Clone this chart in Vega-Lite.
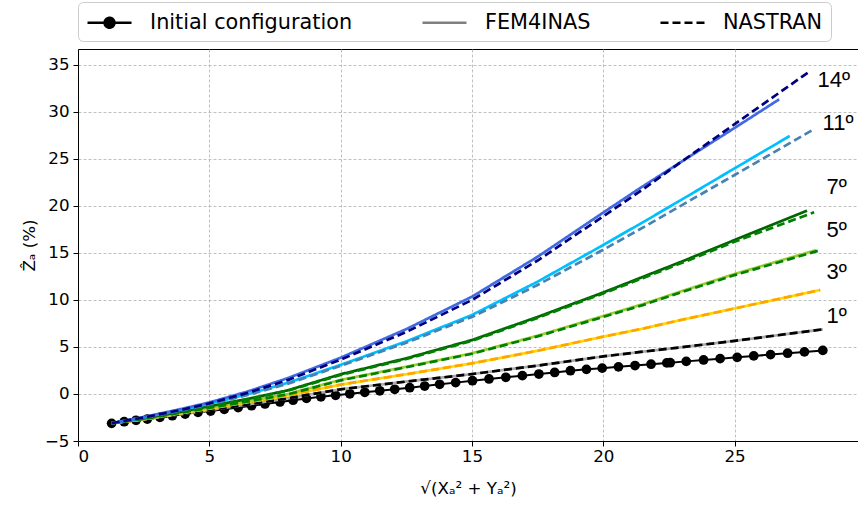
{
  "$schema": "https://vega.github.io/schema/vega-lite/v6.json",
  "width": 780,
  "height": 392,
  "autosize": "none",
  "padding": {"left": 78, "top": 49, "right": 0, "bottom": 69},
  "background": "white",
  "config": {
    "view": {"stroke": "black", "strokeWidth": 1},
    "axis": {
      "labelFont": "DejaVu Sans", "labelFontSize": 16.7, "labelColor": "black",
      "titleFont": "DejaVu Sans", "titleFontSize": 16.7, "titleFontWeight": "normal", "titleColor": "black",
      "tickColor": "black", "tickSize": 5, "domainColor": "black",
      "gridColor": "#b0b0b0", "gridDash": [3, 2], "gridWidth": 0.8
    }
  },
  "datasets": {
    "init": [
      {"x": 1.28, "y": -3.12}, {"x": 1.76, "y": -2.95}, {"x": 2.21, "y": -2.80}, {"x": 2.64, "y": -2.66},
      {"x": 3.12, "y": -2.48}, {"x": 3.59, "y": -2.31}, {"x": 4.08, "y": -2.13}, {"x": 4.57, "y": -1.95},
      {"x": 5.05, "y": -1.81}, {"x": 5.57, "y": -1.63}, {"x": 6.10, "y": -1.44}, {"x": 6.61, "y": -1.25},
      {"x": 7.12, "y": -1.06}, {"x": 7.69, "y": -0.85}, {"x": 8.19, "y": -0.66}, {"x": 8.70, "y": -0.47},
      {"x": 9.25, "y": -0.30}, {"x": 9.81, "y": -0.14}, {"x": 10.35, "y": 0.02}, {"x": 10.92, "y": 0.18},
      {"x": 11.49, "y": 0.34}, {"x": 12.06, "y": 0.50}, {"x": 12.63, "y": 0.67}, {"x": 13.20, "y": 0.85},
      {"x": 13.77, "y": 1.03}, {"x": 14.38, "y": 1.21}, {"x": 15.02, "y": 1.41}, {"x": 15.65, "y": 1.60},
      {"x": 16.29, "y": 1.78}, {"x": 16.92, "y": 1.95}, {"x": 17.55, "y": 2.12}, {"x": 18.15, "y": 2.29},
      {"x": 18.75, "y": 2.48}, {"x": 19.36, "y": 2.62}, {"x": 19.96, "y": 2.75}, {"x": 20.58, "y": 2.89},
      {"x": 21.21, "y": 3.03}, {"x": 21.82, "y": 3.17}, {"x": 22.42, "y": 3.31}, {"x": 22.55, "y": 3.33},
      {"x": 23.16, "y": 3.47}, {"x": 23.82, "y": 3.62}, {"x": 24.45, "y": 3.76}, {"x": 25.10, "y": 3.90},
      {"x": 25.73, "y": 4.05}, {"x": 26.37, "y": 4.19}, {"x": 27.02, "y": 4.34}, {"x": 27.66, "y": 4.48},
      {"x": 28.36, "y": 4.64}
    ],
    "curves": [
      {"series": "1 FEM", "kind": "FEM4INAS", "x": 1.28, "y": -3.1}, {"series": "1 FEM", "kind": "FEM4INAS", "x": 2.5, "y": -2.68},
      {"series": "1 FEM", "kind": "FEM4INAS", "x": 4, "y": -2.12}, {"series": "1 FEM", "kind": "FEM4INAS", "x": 5, "y": -1.7},
      {"series": "1 FEM", "kind": "FEM4INAS", "x": 6.5, "y": -1.1}, {"series": "1 FEM", "kind": "FEM4INAS", "x": 8, "y": -0.45},
      {"series": "1 FEM", "kind": "FEM4INAS", "x": 10, "y": 0.5}, {"series": "1 FEM", "kind": "FEM4INAS", "x": 12.5, "y": 1.32},
      {"series": "1 FEM", "kind": "FEM4INAS", "x": 15, "y": 2.12}, {"series": "1 FEM", "kind": "FEM4INAS", "x": 17.5, "y": 3.02},
      {"series": "1 FEM", "kind": "FEM4INAS", "x": 20, "y": 4.0}, {"series": "1 FEM", "kind": "FEM4INAS", "x": 21.5, "y": 4.5},
      {"series": "1 FEM", "kind": "FEM4INAS", "x": 23, "y": 4.98}, {"series": "1 FEM", "kind": "FEM4INAS", "x": 25, "y": 5.65},
      {"series": "1 FEM", "kind": "FEM4INAS", "x": 28.36, "y": 6.88},
      {"series": "1 NAS", "kind": "NASTRAN", "x": 1.28, "y": -3.1}, {"series": "1 NAS", "kind": "NASTRAN", "x": 2.5, "y": -2.68},
      {"series": "1 NAS", "kind": "NASTRAN", "x": 4, "y": -2.12}, {"series": "1 NAS", "kind": "NASTRAN", "x": 5, "y": -1.7},
      {"series": "1 NAS", "kind": "NASTRAN", "x": 6.5, "y": -1.1}, {"series": "1 NAS", "kind": "NASTRAN", "x": 8, "y": -0.45},
      {"series": "1 NAS", "kind": "NASTRAN", "x": 10, "y": 0.5}, {"series": "1 NAS", "kind": "NASTRAN", "x": 12.5, "y": 1.32},
      {"series": "1 NAS", "kind": "NASTRAN", "x": 15, "y": 2.12}, {"series": "1 NAS", "kind": "NASTRAN", "x": 17.5, "y": 3.02},
      {"series": "1 NAS", "kind": "NASTRAN", "x": 20, "y": 4.0}, {"series": "1 NAS", "kind": "NASTRAN", "x": 21.5, "y": 4.5},
      {"series": "1 NAS", "kind": "NASTRAN", "x": 23, "y": 4.98}, {"series": "1 NAS", "kind": "NASTRAN", "x": 25, "y": 5.65},
      {"series": "1 NAS", "kind": "NASTRAN", "x": 28.36, "y": 6.88},
      {"series": "3 FEM", "kind": "FEM4INAS", "x": 1.28, "y": -3.1}, {"series": "3 FEM", "kind": "FEM4INAS", "x": 2.5, "y": -2.7},
      {"series": "3 FEM", "kind": "FEM4INAS", "x": 4, "y": -2.0}, {"series": "3 FEM", "kind": "FEM4INAS", "x": 5, "y": -1.55},
      {"series": "3 FEM", "kind": "FEM4INAS", "x": 6.5, "y": -0.85}, {"series": "3 FEM", "kind": "FEM4INAS", "x": 8, "y": -0.15},
      {"series": "3 FEM", "kind": "FEM4INAS", "x": 10, "y": 1.0}, {"series": "3 FEM", "kind": "FEM4INAS", "x": 12.5, "y": 2.1},
      {"series": "3 FEM", "kind": "FEM4INAS", "x": 15, "y": 3.26}, {"series": "3 FEM", "kind": "FEM4INAS", "x": 17.5, "y": 4.6},
      {"series": "3 FEM", "kind": "FEM4INAS", "x": 20, "y": 6.1}, {"series": "3 FEM", "kind": "FEM4INAS", "x": 21.5, "y": 6.95},
      {"series": "3 FEM", "kind": "FEM4INAS", "x": 23, "y": 7.9}, {"series": "3 FEM", "kind": "FEM4INAS", "x": 25, "y": 9.1},
      {"series": "3 FEM", "kind": "FEM4INAS", "x": 28.26, "y": 11.06},
      {"series": "3 NAS", "kind": "NASTRAN", "x": 1.28, "y": -3.1}, {"series": "3 NAS", "kind": "NASTRAN", "x": 2.5, "y": -2.7},
      {"series": "3 NAS", "kind": "NASTRAN", "x": 4, "y": -2.0}, {"series": "3 NAS", "kind": "NASTRAN", "x": 5, "y": -1.55},
      {"series": "3 NAS", "kind": "NASTRAN", "x": 6.5, "y": -0.85}, {"series": "3 NAS", "kind": "NASTRAN", "x": 8, "y": -0.15},
      {"series": "3 NAS", "kind": "NASTRAN", "x": 10, "y": 1.0}, {"series": "3 NAS", "kind": "NASTRAN", "x": 12.5, "y": 2.1},
      {"series": "3 NAS", "kind": "NASTRAN", "x": 15, "y": 3.26}, {"series": "3 NAS", "kind": "NASTRAN", "x": 17.5, "y": 4.6},
      {"series": "3 NAS", "kind": "NASTRAN", "x": 20, "y": 6.1}, {"series": "3 NAS", "kind": "NASTRAN", "x": 21.5, "y": 6.95},
      {"series": "3 NAS", "kind": "NASTRAN", "x": 23, "y": 7.9}, {"series": "3 NAS", "kind": "NASTRAN", "x": 25, "y": 9.1},
      {"series": "3 NAS", "kind": "NASTRAN", "x": 28.26, "y": 11.06},
      {"series": "5 FEM", "kind": "FEM4INAS", "x": 1.28, "y": -3.1}, {"series": "5 FEM", "kind": "FEM4INAS", "x": 2.5, "y": -2.65},
      {"series": "5 FEM", "kind": "FEM4INAS", "x": 4, "y": -1.95}, {"series": "5 FEM", "kind": "FEM4INAS", "x": 5, "y": -1.45},
      {"series": "5 FEM", "kind": "FEM4INAS", "x": 6.5, "y": -0.75}, {"series": "5 FEM", "kind": "FEM4INAS", "x": 8, "y": 0.0},
      {"series": "5 FEM", "kind": "FEM4INAS", "x": 10, "y": 1.5}, {"series": "5 FEM", "kind": "FEM4INAS", "x": 12.5, "y": 2.9},
      {"series": "5 FEM", "kind": "FEM4INAS", "x": 15, "y": 4.33}, {"series": "5 FEM", "kind": "FEM4INAS", "x": 17.5, "y": 6.2},
      {"series": "5 FEM", "kind": "FEM4INAS", "x": 20, "y": 8.3}, {"series": "5 FEM", "kind": "FEM4INAS", "x": 21.5, "y": 9.55},
      {"series": "5 FEM", "kind": "FEM4INAS", "x": 23, "y": 10.95}, {"series": "5 FEM", "kind": "FEM4INAS", "x": 25, "y": 12.77},
      {"series": "5 FEM", "kind": "FEM4INAS", "x": 28.1, "y": 15.3},
      {"series": "5 NAS", "kind": "NASTRAN", "x": 1.28, "y": -3.1}, {"series": "5 NAS", "kind": "NASTRAN", "x": 2.5, "y": -2.65},
      {"series": "5 NAS", "kind": "NASTRAN", "x": 4, "y": -1.95}, {"series": "5 NAS", "kind": "NASTRAN", "x": 5, "y": -1.47},
      {"series": "5 NAS", "kind": "NASTRAN", "x": 6.5, "y": -0.78}, {"series": "5 NAS", "kind": "NASTRAN", "x": 8, "y": -0.03},
      {"series": "5 NAS", "kind": "NASTRAN", "x": 10, "y": 1.45}, {"series": "5 NAS", "kind": "NASTRAN", "x": 12.5, "y": 2.85},
      {"series": "5 NAS", "kind": "NASTRAN", "x": 15, "y": 4.28}, {"series": "5 NAS", "kind": "NASTRAN", "x": 17.5, "y": 6.13},
      {"series": "5 NAS", "kind": "NASTRAN", "x": 20, "y": 8.2}, {"series": "5 NAS", "kind": "NASTRAN", "x": 21.5, "y": 9.45},
      {"series": "5 NAS", "kind": "NASTRAN", "x": 23, "y": 10.85}, {"series": "5 NAS", "kind": "NASTRAN", "x": 25, "y": 12.65},
      {"series": "5 NAS", "kind": "NASTRAN", "x": 28.2, "y": 15.25},
      {"series": "7 FEM", "kind": "FEM4INAS", "x": 1.28, "y": -3.1}, {"series": "7 FEM", "kind": "FEM4INAS", "x": 2.5, "y": -2.6},
      {"series": "7 FEM", "kind": "FEM4INAS", "x": 4, "y": -1.85}, {"series": "7 FEM", "kind": "FEM4INAS", "x": 5, "y": -1.3},
      {"series": "7 FEM", "kind": "FEM4INAS", "x": 6.5, "y": -0.5}, {"series": "7 FEM", "kind": "FEM4INAS", "x": 8, "y": 0.4},
      {"series": "7 FEM", "kind": "FEM4INAS", "x": 10, "y": 2.1}, {"series": "7 FEM", "kind": "FEM4INAS", "x": 12.5, "y": 3.8},
      {"series": "7 FEM", "kind": "FEM4INAS", "x": 15, "y": 5.74}, {"series": "7 FEM", "kind": "FEM4INAS", "x": 17.5, "y": 8.2},
      {"series": "7 FEM", "kind": "FEM4INAS", "x": 20, "y": 10.8}, {"series": "7 FEM", "kind": "FEM4INAS", "x": 21.5, "y": 12.45},
      {"series": "7 FEM", "kind": "FEM4INAS", "x": 23, "y": 14.1}, {"series": "7 FEM", "kind": "FEM4INAS", "x": 25, "y": 16.38},
      {"series": "7 FEM", "kind": "FEM4INAS", "x": 27.76, "y": 19.5},
      {"series": "7 NAS", "kind": "NASTRAN", "x": 1.28, "y": -3.1}, {"series": "7 NAS", "kind": "NASTRAN", "x": 2.5, "y": -2.6},
      {"series": "7 NAS", "kind": "NASTRAN", "x": 4, "y": -1.87}, {"series": "7 NAS", "kind": "NASTRAN", "x": 5, "y": -1.33},
      {"series": "7 NAS", "kind": "NASTRAN", "x": 6.5, "y": -0.55}, {"series": "7 NAS", "kind": "NASTRAN", "x": 8, "y": 0.35},
      {"series": "7 NAS", "kind": "NASTRAN", "x": 10, "y": 2.03}, {"series": "7 NAS", "kind": "NASTRAN", "x": 12.5, "y": 3.72},
      {"series": "7 NAS", "kind": "NASTRAN", "x": 15, "y": 5.65}, {"series": "7 NAS", "kind": "NASTRAN", "x": 17.5, "y": 8.1},
      {"series": "7 NAS", "kind": "NASTRAN", "x": 20, "y": 10.7}, {"series": "7 NAS", "kind": "NASTRAN", "x": 21.5, "y": 12.32},
      {"series": "7 NAS", "kind": "NASTRAN", "x": 23, "y": 13.95}, {"series": "7 NAS", "kind": "NASTRAN", "x": 25, "y": 16.2},
      {"series": "7 NAS", "kind": "NASTRAN", "x": 28.03, "y": 19.33},
      {"series": "11 FEM", "kind": "FEM4INAS", "x": 1.28, "y": -3.1}, {"series": "11 FEM", "kind": "FEM4INAS", "x": 2.5, "y": -2.5},
      {"series": "11 FEM", "kind": "FEM4INAS", "x": 4, "y": -1.65}, {"series": "11 FEM", "kind": "FEM4INAS", "x": 5, "y": -1.05},
      {"series": "11 FEM", "kind": "FEM4INAS", "x": 6.5, "y": 0.0}, {"series": "11 FEM", "kind": "FEM4INAS", "x": 8, "y": 1.2},
      {"series": "11 FEM", "kind": "FEM4INAS", "x": 10, "y": 3.1}, {"series": "11 FEM", "kind": "FEM4INAS", "x": 12.5, "y": 5.6},
      {"series": "11 FEM", "kind": "FEM4INAS", "x": 15, "y": 8.4}, {"series": "11 FEM", "kind": "FEM4INAS", "x": 17.5, "y": 11.95},
      {"series": "11 FEM", "kind": "FEM4INAS", "x": 20, "y": 15.85}, {"series": "11 FEM", "kind": "FEM4INAS", "x": 21.7, "y": 18.58},
      {"series": "11 FEM", "kind": "FEM4INAS", "x": 23, "y": 20.7}, {"series": "11 FEM", "kind": "FEM4INAS", "x": 25, "y": 24.0},
      {"series": "11 FEM", "kind": "FEM4INAS", "x": 27.1, "y": 27.45},
      {"series": "11 NAS", "kind": "NASTRAN", "x": 1.28, "y": -3.1}, {"series": "11 NAS", "kind": "NASTRAN", "x": 2.5, "y": -2.52},
      {"series": "11 NAS", "kind": "NASTRAN", "x": 4, "y": -1.7}, {"series": "11 NAS", "kind": "NASTRAN", "x": 5, "y": -1.1},
      {"series": "11 NAS", "kind": "NASTRAN", "x": 6.5, "y": -0.08}, {"series": "11 NAS", "kind": "NASTRAN", "x": 8, "y": 1.1},
      {"series": "11 NAS", "kind": "NASTRAN", "x": 10, "y": 3.0}, {"series": "11 NAS", "kind": "NASTRAN", "x": 12.5, "y": 5.45},
      {"series": "11 NAS", "kind": "NASTRAN", "x": 15, "y": 8.2}, {"series": "11 NAS", "kind": "NASTRAN", "x": 17.5, "y": 11.6},
      {"series": "11 NAS", "kind": "NASTRAN", "x": 20, "y": 15.35}, {"series": "11 NAS", "kind": "NASTRAN", "x": 21.7, "y": 18.0},
      {"series": "11 NAS", "kind": "NASTRAN", "x": 23, "y": 20.1}, {"series": "11 NAS", "kind": "NASTRAN", "x": 25, "y": 23.3},
      {"series": "11 NAS", "kind": "NASTRAN", "x": 27.98, "y": 28.1},
      {"series": "14 FEM", "kind": "FEM4INAS", "x": 1.28, "y": -3.1}, {"series": "14 FEM", "kind": "FEM4INAS", "x": 2.5, "y": -2.45},
      {"series": "14 FEM", "kind": "FEM4INAS", "x": 4, "y": -1.55}, {"series": "14 FEM", "kind": "FEM4INAS", "x": 5, "y": -0.9},
      {"series": "14 FEM", "kind": "FEM4INAS", "x": 6.5, "y": 0.3}, {"series": "14 FEM", "kind": "FEM4INAS", "x": 8, "y": 1.7},
      {"series": "14 FEM", "kind": "FEM4INAS", "x": 10, "y": 3.86}, {"series": "14 FEM", "kind": "FEM4INAS", "x": 12.5, "y": 6.9},
      {"series": "14 FEM", "kind": "FEM4INAS", "x": 15, "y": 10.35}, {"series": "14 FEM", "kind": "FEM4INAS", "x": 17.5, "y": 14.6},
      {"series": "14 FEM", "kind": "FEM4INAS", "x": 20, "y": 19.3}, {"series": "14 FEM", "kind": "FEM4INAS", "x": 21.4, "y": 21.9},
      {"series": "14 FEM", "kind": "FEM4INAS", "x": 23, "y": 24.75}, {"series": "14 FEM", "kind": "FEM4INAS", "x": 25, "y": 28.3},
      {"series": "14 FEM", "kind": "FEM4INAS", "x": 26.7, "y": 31.35},
      {"series": "14 NAS", "kind": "NASTRAN", "x": 1.28, "y": -3.1}, {"series": "14 NAS", "kind": "NASTRAN", "x": 2.5, "y": -2.5},
      {"series": "14 NAS", "kind": "NASTRAN", "x": 4, "y": -1.65}, {"series": "14 NAS", "kind": "NASTRAN", "x": 5, "y": -1.0},
      {"series": "14 NAS", "kind": "NASTRAN", "x": 6.5, "y": 0.15}, {"series": "14 NAS", "kind": "NASTRAN", "x": 8, "y": 1.5},
      {"series": "14 NAS", "kind": "NASTRAN", "x": 10, "y": 3.65}, {"series": "14 NAS", "kind": "NASTRAN", "x": 12.5, "y": 6.6},
      {"series": "14 NAS", "kind": "NASTRAN", "x": 15, "y": 10.0}, {"series": "14 NAS", "kind": "NASTRAN", "x": 17.5, "y": 14.2},
      {"series": "14 NAS", "kind": "NASTRAN", "x": 20, "y": 18.9}, {"series": "14 NAS", "kind": "NASTRAN", "x": 21.5, "y": 21.75},
      {"series": "14 NAS", "kind": "NASTRAN", "x": 23, "y": 24.75}, {"series": "14 NAS", "kind": "NASTRAN", "x": 25, "y": 28.7},
      {"series": "14 NAS", "kind": "NASTRAN", "x": 27.9, "y": 34.4}
    ],
    "labels": [
      {"label": "14º", "x": 28.16, "y": 33.4},
      {"label": "11º", "x": 28.35, "y": 28.83},
      {"label": "7º", "x": 28.5, "y": 22.0},
      {"label": "5º", "x": 28.5, "y": 17.45},
      {"label": "3º", "x": 28.5, "y": 12.98},
      {"label": "1º", "x": 28.5, "y": 8.3}
    ]
  },
  "encoding": {
    "x": {"field": "x", "type": "quantitative", "scale": {"domain": [0, 29.7], "nice": false, "zero": false},
      "axis": {"values": [0, 5, 10, 15, 20, 25], "title": "√(Xₐ² + Yₐ²)", "labelPadding": 2, "titlePadding": 16}},
    "y": {"field": "y", "type": "quantitative", "scale": {"domain": [-5, 36.7], "nice": false, "zero": false},
      "axis": {"values": [-5, 0, 5, 10, 15, 20, 25, 30, 35], "title": "Ẑₐ (%)", "labelPadding": 4, "titlePadding": 6}}
  },
  "layer": [
    {
      "data": {"name": "init"},
      "mark": {"type": "line", "color": "black", "strokeWidth": 2},
      "encoding": {}
    },
    {
      "data": {"name": "init"},
      "mark": {"type": "point", "filled": true, "color": "black", "size": 95, "opacity": 1},
      "encoding": {}
    },
    {
      "data": {"name": "curves"},
      "mark": {"type": "line", "strokeWidth": 2.7},
      "encoding": {
        "color": {"field": "series", "type": "nominal", "legend": null,
          "scale": {"domain": ["1 FEM", "1 NAS", "3 FEM", "3 NAS", "5 FEM", "5 NAS", "7 FEM", "7 NAS", "11 FEM", "11 NAS", "14 FEM", "14 NAS"],
            "range": ["#a9a9a9", "#000000", "#ffd700", "#ffa500", "#9acd32", "#008000", "#006400", "#008000", "#00bfff", "#4682b4", "#4169e1", "#000080"]}},
        "strokeDash": {"field": "kind", "type": "nominal",
          "scale": {"domain": ["Initial configuration", "FEM4INAS", "NASTRAN"], "range": [[1, 0], [1, 0], [8, 4]]},
          "legend": {
            "title": null, "orient": "none", "legendX": 0, "legendY": -47,
            "direction": "horizontal", "columns": 3, "columnPadding": 64,
            "symbolType": "M-2,0H2", "symbolSize": 484, "symbolOffset": 11, "symbolStrokeWidth": 2.5,
            "symbolStrokeColor": "black",
            "labelFont": "DejaVu Sans", "labelFontSize": 20.8, "labelColor": "black", "labelOffset": 28, "labelLimit": 400,
            "padding": 8, "strokeColor": "#cccccc", "cornerRadius": 5, "fillColor": "white",
            "encode": {"symbols": {"update": {
              "stroke": {"signal": "datum.value === 'FEM4INAS' ? '#808080' : 'black'"},
              "shape": {"signal": "datum.value === 'Initial configuration' ? 'M-2,0H2M-0.45,0A0.45,0.45,0,1,1,0.45,0A0.45,0.45,0,1,1,-0.45,0' : 'M-2,0H2'"},
              "fill": {"signal": "datum.value === 'Initial configuration' ? 'black' : 'transparent'"},
              "strokeWidth": {"value": 2.5}
            }}}
          }},
        "order": {"field": "x", "type": "quantitative"}
      }
    },
    {
      "data": {"name": "labels"},
      "mark": {"type": "text", "align": "left", "baseline": "middle", "font": "Liberation Sans", "fontSize": 22, "color": "black", "clip": false},
      "encoding": {"text": {"field": "label", "type": "nominal"}}
    }
  ]
}
